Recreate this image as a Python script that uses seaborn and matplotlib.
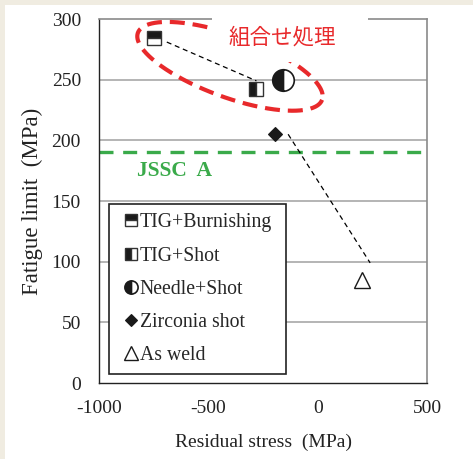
import numpy as np
import pandas as pd
import matplotlib
matplotlib.use("Agg")
import matplotlib.pyplot as plt
from matplotlib.lines import Line2D
from matplotlib.patches import Rectangle
import seaborn as sns

# ---- data ----
series = ["TIG+Burnishing", "TIG+Shot", "Needle+Shot", "Zirconia shot", "As weld"]
residual_stress = [-750, -280, -160, -195, 205]
fatigue_limit = [284, 242, 250, 205, 85]

trend1_x = [-690, -280]
trend1_y = [281, 249]
trend2_x = [-135, 240]
trend2_y = [205, 99]

jssc_level = 190
jssc_label = "JSSC  A"
combo_label = "組合せ処理"

x_ticks = [-1000, -500, 0, 500]
y_ticks = [0, 50, 100, 150, 200, 250, 300]

# ---- style ----
sns.set_theme(style="white")
plt.rcParams["font.family"] = ["Liberation Serif", "Noto Sans CJK JP"]
plt.rcParams["axes.unicode_minus"] = False

W, H = 473, 459
fig = plt.figure(figsize=(W / 100, H / 100), dpi=100)
fig.set_facecolor("#f0ece1")
fig.add_artist(Rectangle((5 / W, 0), 1, (H - 5) / H, transform=fig.transFigure,
                         facecolor="white", edgecolor="none", zorder=0))

ax_l, ax_r, ax_t, ax_b = 99, 427, 19, 383
ax = fig.add_axes([ax_l / W, (H - ax_b) / H, (ax_r - ax_l) / W, (ax_b - ax_t) / H])
ax.set_facecolor("white")
ax.set_xlim(-1000, 500)
ax.set_ylim(0, 300)

# gridlines
for yv in y_ticks[1:-1]:
    ax.axhline(yv, color="#a8a8a8", lw=1.2, zorder=1)

# JSSC line
ax.axhline(jssc_level, color="#3aaa4a", lw=2.4, dashes=(4.2, 2.9), zorder=2)
ax.text(-828, 174.5, jssc_label, color="#3aaa4a", fontsize=15.5, fontweight="bold",
        va="center", ha="left", family="Liberation Serif")

# trend lines
df1 = pd.DataFrame({"x": trend1_x, "y": trend1_y})
df2 = pd.DataFrame({"x": trend2_x, "y": trend2_y})
sns.lineplot(data=df1, x="x", y="y", color="black", lw=0.9,
             linestyle=(0, (4, 3)), ax=ax, zorder=3)
sns.lineplot(data=df2, x="x", y="y", color="black", lw=0.9,
             linestyle=(0, (4, 3)), ax=ax, zorder=3)

# markers
styles = [
    dict(marker="s", markersize=10, fillstyle="top", markerfacecolor="#1a1a1a",
         markerfacecoloralt="white", markeredgecolor="#333333", markeredgewidth=1.0),
    dict(marker="s", markersize=10.5, fillstyle="left", markerfacecolor="#1a1a1a",
         markerfacecoloralt="white", markeredgecolor="#333333", markeredgewidth=1.0),
    dict(marker="o", markersize=15.5, fillstyle="left", markerfacecolor="#1a1a1a",
         markerfacecoloralt="white", markeredgecolor="#1a1a1a", markeredgewidth=1.2),
    dict(marker="D", markersize=7.5, fillstyle="full", markerfacecolor="#1a1a1a",
         markeredgecolor="#1a1a1a", markeredgewidth=0.8),
    dict(marker="^", markersize=11, fillstyle="full", markerfacecolor="white",
         markeredgecolor="#1a1a1a", markeredgewidth=1.0),
]
for name, xv, yv, st in zip(series, residual_stress, fatigue_limit, styles):
    sns.lineplot(x=[xv], y=[yv], linestyle="", color="#1a1a1a", ax=ax, zorder=5, **st)

# ellipse (pixel-space parameters)
sx = (ax_r - ax_l) / 1500.0   # px per MPa
sy = (ax_b - ax_t) / 300.0    # px per MPa
ecx, ecy = -401, 261
ea, eb, eang = 98, 31, np.deg2rad(20)
t = np.linspace(0, 2 * np.pi, 400)
dxp = ea * np.cos(t) * np.cos(eang) - eb * np.sin(t) * np.sin(eang)
dyp = ea * np.cos(t) * np.sin(eang) + eb * np.sin(t) * np.cos(eang)
ex = ecx + dxp / sx
ey = ecy - dyp / sy
ax.plot(ex, ey, color="#e8292b", lw=3.0, dashes=(3.6, 1.9), zorder=3,
        solid_capstyle="butt", clip_on=False)

# white box behind the label (covers spine and ellipse part)
bx0, bx1, by0, by1 = 212, 368, 8, 62
ax.add_patch(Rectangle(((bx0 - ax_l) / (ax_r - ax_l), (ax_b - by1) / (ax_b - ax_t)),
                       (bx1 - bx0) / (ax_r - ax_l), (by1 - by0) / (ax_b - ax_t),
                       transform=ax.transAxes, facecolor="white", edgecolor="none",
                       zorder=4, clip_on=False))
ax.text(-410, 285, combo_label, color="#e8292b", fontsize=15.5,
        family="Noto Sans CJK JP", va="center", ha="left", zorder=6)

# spines
for s in ["left", "bottom"]:
    ax.spines[s].set_color("#222222")
    ax.spines[s].set_linewidth(1.0)
for s in ["right", "top"]:
    ax.spines[s].set_color("#8a8a8a")
    ax.spines[s].set_linewidth(1.2)
ax.spines["top"].set_zorder(2.5)

ax.set_xticks(x_ticks)
ax.set_yticks(y_ticks)
ax.set_xticklabels([str(v) for v in x_ticks])
ax.set_yticklabels([str(v) for v in y_ticks])
ax.tick_params(axis="x", direction="in", length=4, color="#888888", labelsize=14,
               pad=12, labelcolor="#222222")
ax.tick_params(axis="y", length=0, labelsize=14, pad=13, labelcolor="#222222")
ax.set_xlabel("Residual stress  (MPa)", fontsize=14, color="#222222", labelpad=12)
ax.set_ylabel("Fatigue limit  (MPa)", fontsize=16.5, color="#222222", labelpad=6)

# legend
handles = []
leg_sizes = [9, 9, 9.5, 6.5, 9.5]
for st, ms in zip(styles, leg_sizes):
    h = dict(st)
    h["markersize"] = ms
    handles.append(Line2D([], [], linestyle="", **h))
lx0 = (109 - ax_l) / (ax_r - ax_l)
lx1 = (286 - ax_l) / (ax_r - ax_l)
ly0 = (ax_b - 374) / (ax_b - ax_t)
leg = ax.legend(handles, series, loc="lower left",
                bbox_to_anchor=(lx0, ly0, lx1 - lx0, 0.3), mode="expand",
                borderaxespad=0, frameon=True, fancybox=False, fontsize=14.2,
                handlelength=1.3, handletextpad=-0.2, labelspacing=0.72,
                borderpad=0.45, edgecolor="#222222", framealpha=1)
leg.get_frame().set_linewidth(1.2)
leg.set_zorder(7)

fig.savefig("out.png", dpi=100, facecolor=fig.get_facecolor())
